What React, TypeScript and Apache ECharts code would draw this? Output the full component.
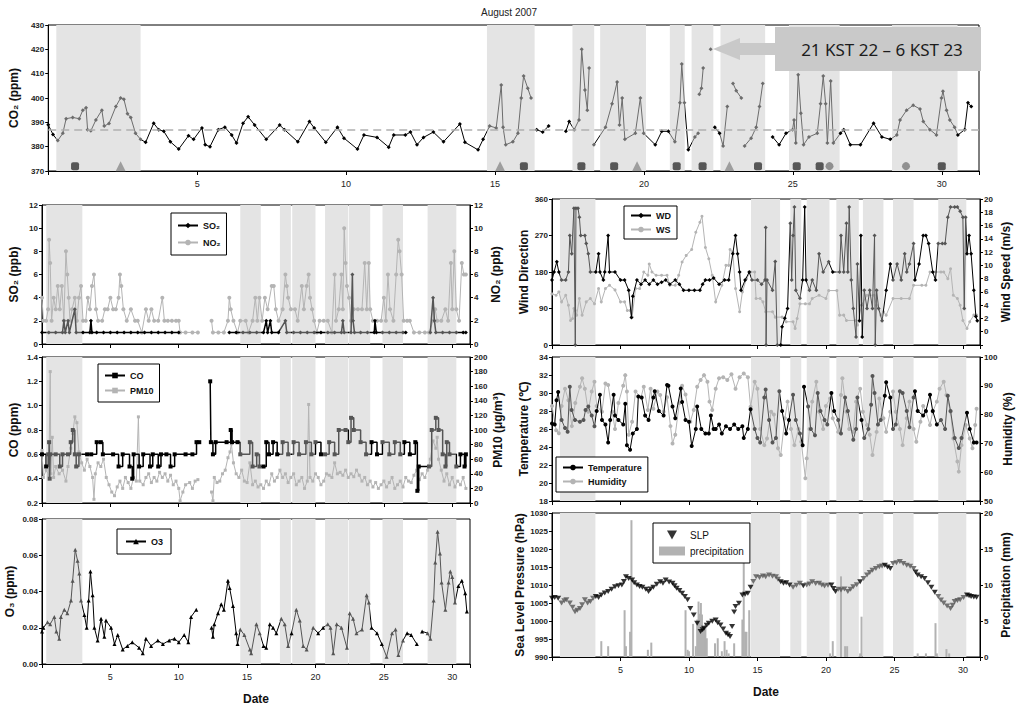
import React, { useEffect, useRef } from "react";
import * as echarts from "echarts";

type P = [number, number] | null;

// ---------- shaded periods (day of August) ----------
const TOP_BANDS: [number, number][] = [[0.27, 3.1], [14.73, 16.33], [17.6, 18.33], [18.53, 20.07], [20.87, 21.37], [21.6, 22.33], [22.57, 24.07], [24.87, 26.57], [28.33, 30.53]];
const LEFT_BANDS: [number, number][] = [[0.31, 2.95], [14.5, 16.0], [17.4, 18.2], [18.3, 20.0], [20.7, 22.4], [22.45, 24.0], [24.9, 26.4], [28.2, 30.3]];
const RIGHT_BANDS: [number, number][] = [[0.58, 3.17], [14.53, 16.65], [17.4, 18.2], [18.6, 20.26], [20.76, 22.4], [22.7, 24.2], [24.9, 26.4], [28.2, 30.25]];

// ---------- CO2 ----------
const CO2: P[] = [[0.0,389],[0.16,385],[0.32,382.5],[0.49,385.5],[0.6,391.5],[0.82,392],[1.04,391.5],[1.16,395],[1.27,396],[1.32,387],[1.43,386.5],[1.6,391],[1.8,395],[1.88,388.5],[2.04,389.5],[2.27,396.5],[2.43,400],[2.54,399.5],[2.66,393.5],[2.77,392],[2.93,385.5],[3.1,383],[3.27,381.8],[3.54,389.6],[3.71,387],[3.88,386.3],[4.1,382],[4.38,379],[4.71,384.5],[4.88,383],[5.16,387.7],[5.27,380.8],[5.43,380],[5.71,387],[5.93,388],[6.16,384.8],[6.32,381.5],[6.54,389.6],[6.71,392.3],[6.93,388.9],[7.32,383],[7.77,388.9],[7.93,387],[8.38,382],[8.77,390.3],[8.93,387.7],[9.32,381.8],[9.71,388],[9.93,383.5],[10.38,379],[10.6,384.8],[11.04,383.8],[11.43,379.8],[11.6,384.8],[11.99,384.8],[12.16,386],[12.38,380.8],[12.6,383.8],[12.93,386],[13.27,382],[13.82,389.3],[13.99,381.8],[14.43,378.7],[14.6,383],[14.82,388.5],[15.04,387.7],[15.21,405.3],[15.27,388],[15.36,380.8],[15.6,382],[15.77,385.5],[15.88,400],[15.96,409],[16.1,404],[16.21,400],null,[16.4,387],[16.6,386],[16.8,388.5],null,[17.38,386.3],[17.49,390.3],[17.66,387],[17.82,391],[17.91,420],[18.02,403.3],[18.1,395],[18.16,412.3],null,[18.32,380.8],[18.71,388],[18.93,397.6],[19.1,406.6],[19.18,388.9],[19.27,400],[19.36,383],[19.71,385.5],[19.88,400],[19.99,385.5],[20.38,380.8],[20.6,386.3],[20.82,386.3],[21.04,382],[21.21,398],[21.27,414],[21.36,398],[21.49,378.7],[21.71,384],[21.82,385.5],null,[21.86,401.5],[21.93,404],[21.99,412.3],null,[22.24,420],null,[22.38,388],[22.54,385.5],[22.66,380.3],[22.8,396.5],null,[22.99,406],[23.1,403],[23.27,400],null,[23.38,380.3],[23.6,383.5],[23.77,388],[23.88,396.5],[23.99,406],null,[24.32,384],[24.54,380.8],[24.77,385.5],[24.99,387],[25.04,391],[25.1,381.5],[25.18,409.6],[25.27,393.7],[25.36,380.8],[25.54,384],[25.82,385.5],[25.93,397.6],[26.02,409],[26.1,397.6],[26.16,381.5],[26.27,407],[26.36,381.5],[26.6,385.5],[26.71,387],[26.93,380.8],[27.27,380.8],[27.71,389.6],[27.99,384],[28.27,383],[28.49,384.8],[28.6,391],[28.82,395],[29.04,397],[29.27,395.5],[29.38,390.3],[29.6,387],[29.82,384.8],[29.99,400],[30.04,402.8],[30.16,395],[30.27,391],[30.43,388],[30.54,384.8],[30.77,387],[30.88,398],[30.99,396.5]];
const CO2_MEAN = 387;
const CO2_EVENT_LEVEL = 372;
const CO2_EVENT_DAYS = [0.9, 2.43, 15.17, 15.97, 17.9, 19.0, 19.77, 21.1, 21.97, 22.87, 23.83, 25.13, 25.9, 26.23, 28.8, 30.0];
const CO2_EVENT_KINDS = ["square", "triangle", "triangle", "square", "square", "square", "triangle", "square", "square", "triangle", "square", "square", "square", "circle", "circle", "square"];

// ---------- SO2 / NO2 (ppb) ----------
const SO2: P[] = [[0,1],[0.5,1],[1.0,1],[1.5,1],[1.6,2],[1.7,1],[1.9,2],[2.0,1],[2.4,3],[2.5,1],[3.0,1],[3.5,1],[3.58,2],[3.65,1],[4.0,1],[4.5,1],[5.0,1],[5.5,1],[6.0,1],[6.5,1],[7.0,1],[7.5,1],[8.0,1],[8.5,1],[9.0,1],[9.5,1],[10.0,1],null,[13.7,1],[14.2,1],[14.7,1],[15.2,1],[15.7,1],[16.2,1],[16.4,2],[16.5,1],[16.7,2],[16.8,1],[17.3,1],[17.8,2],[17.9,1],[18.4,1],[18.9,1],[19.4,1],[19.9,1],[20.4,1],[20.9,1],[21.4,1],[21.9,1],[22.0,2],[22.1,1],[22.6,1],[22.7,6],[22.75,2],[22.85,1],[23.3,1],[23.8,1],[24.3,1],[24.35,2],[24.45,1],[24.9,1],[25.4,1],[25.9,1],[26.4,1],[26.6,1],null,[28.4,1],[28.6,4],[28.7,2],[28.8,1],[29.3,1],[29.8,1],[30.3,1],[30.8,1],[31.0,1]];
const NO2: P[] = [[0.0,4],[0.1,2],[0.3,2],[0.45,3],[0.52,9],[0.6,7],[0.7,2],[0.85,4],[1.0,3],[1.15,5],[1.3,3],[1.45,5],[1.6,2],[1.75,8],[1.85,6],[1.95,4],[2.05,2],[2.2,3],[2.4,4],[2.55,2],[2.7,4],[2.85,5],[3.0,2],[3.2,2],[3.35,4],[3.5,3],[3.65,5],[3.8,6],[3.95,3],[4.1,2],[4.4,2],[4.6,3],[4.8,3],[5.0,4],[5.2,3],[5.4,3],[5.6,4],[5.7,6],[5.8,5],[5.95,3],[6.2,2],[6.5,3],[6.8,2],[7.0,2],[7.3,1],[7.6,3],[7.8,2],[8.0,3],[8.2,2],[8.5,2],[8.8,4],[8.95,2],[9.2,2],[9.5,2],[9.8,2],[10.0,2],[10.1,1],[10.5,1],[11.0,1],[11.4,1],null,[12.4,2],[12.5,1],[12.9,1],[13.3,1],[13.6,2],[13.7,4],[13.8,3],[14.0,2],[14.3,1],[14.5,2],[14.9,2],[15.1,1],[15.4,2],[15.6,4],[15.75,2],[15.9,4],[16.1,2],[16.3,4],[16.5,3],[16.8,5],[16.95,5],[17.1,3],[17.3,2],[17.6,3],[17.8,6],[17.9,5],[18.0,4],[18.2,3],[18.5,3],[18.7,2],[19.0,5],[19.15,3],[19.35,5],[19.5,6],[19.6,4],[19.75,3],[19.9,2],[20.1,1],[20.3,2],[20.6,2],[20.9,2],[21.2,1],[21.4,6],[21.5,2],[21.7,3],[21.9,6],[22.0,3],[22.1,10],[22.2,7],[22.3,5],[22.45,4],[22.6,2],[22.8,3],[23.1,3],[23.4,3],[23.6,7],[23.75,3],[23.9,7],[24.0,3],[24.2,2],[24.5,2],[24.8,2],[25.0,4],[25.15,2],[25.3,6],[25.45,3],[25.7,2],[25.9,6],[26.05,9],[26.15,8],[26.3,6],[26.45,2],[26.7,2],[26.9,2],[27.2,1],[27.6,1],[28.0,1],[28.3,1],[28.6,2],[28.75,3],[28.9,2],[29.2,2],[29.5,3],[29.7,2],[29.9,7],[30.0,3],[30.15,8],[30.3,3],[30.5,2],[30.7,7],[30.85,6],[31.0,6]];

// ---------- CO (ppm) / PM10 (ug/m3) ----------
const CO: P[] = [[0.0,0.6],[0.3,0.5],[0.45,0.6],[0.52,0.7],[0.56,0.4],[0.6,0.6],[1.0,0.6],[1.3,0.5],[1.5,0.6],[1.9,0.6],[2.1,0.7],[2.25,0.8],[2.4,0.6],[2.5,0.5],[2.7,0.6],[3.3,0.6],[3.6,0.6],[4.0,0.7],[4.3,0.7],[4.45,0.6],[5.2,0.6],[5.6,0.5],[5.9,0.6],[6.4,0.5],[6.6,0.4],[6.7,0.6],[7.1,0.5],[7.4,0.6],[7.9,0.5],[8.1,0.6],[8.5,0.5],[8.7,0.6],[9.1,0.6],[9.4,0.5],[9.7,0.6],[10.5,0.6],[11.0,0.6],[11.3,0.7],[11.5,0.7],null,[12.3,1.2],[12.35,0.7],[12.5,0.6],[12.7,0.7],[13.5,0.7],[13.8,0.8],[13.9,0.7],[14.3,0.7],[14.5,0.6],[15.2,0.7],[15.4,0.5],[15.7,0.6],[15.9,0.5],[16.2,0.5],[16.4,0.7],[16.6,0.6],[16.9,0.7],[17.2,0.6],[17.6,0.7],[18.0,0.6],[18.4,0.7],[18.8,0.6],[19.3,0.7],[19.7,0.6],[20.0,0.7],[20.4,0.6],[20.7,0.6],[21.0,0.7],[21.4,0.6],[21.7,0.8],[22.2,0.8],[22.4,0.7],[22.6,0.9],[22.8,0.8],[23.3,0.7],[23.7,0.6],[24.1,0.7],[24.5,0.6],[24.9,0.7],[25.4,0.6],[25.8,0.7],[26.2,0.6],[26.5,0.7],[26.9,0.6],[27.3,0.7],[27.45,0.3],[27.55,0.5],[28.3,0.5],[28.5,0.8],[28.8,0.9],[29.0,0.8],[29.3,0.6],[29.5,0.5],[29.6,0.7],[29.8,0.6],[30.3,0.5],[30.6,0.6],[30.9,0.5],[31.0,0.6]];
const PM10: P[] = [[0.0,72],[0.1,35],[0.3,45],[0.5,38],[0.6,180],[0.65,40],[0.75,90],[0.85,35],[1.0,50],[1.25,40],[1.5,45],[1.75,30],[1.9,50],[2.1,75],[2.25,95],[2.4,118],[2.55,110],[2.7,70],[2.9,55],[3.1,45],[3.3,60],[3.5,50],[3.7,35],[3.8,5],[3.9,40],[4.1,55],[4.3,50],[4.5,60],[4.7,35],[4.9,25],[5.1,15],[5.3,10],[5.5,22],[5.7,30],[5.9,20],[6.1,35],[6.3,28],[6.5,20],[6.7,35],[6.9,30],[7.05,118],[7.15,30],[7.4,25],[7.6,35],[7.8,40],[8.0,28],[8.2,35],[8.4,30],[8.6,42],[8.8,35],[9.0,40],[9.2,30],[9.4,38],[9.6,25],[9.8,30],[10.0,20],[10.1,3],[10.3,15],[10.5,25],[10.8,28],[11.0,20],[11.2,30],[11.4,32],null,[12.4,15],[12.5,3],[12.6,35],[12.8,28],[13.0,30],[13.2,40],[13.4,45],[13.6,62],[13.75,70],[13.85,81],[14.0,55],[14.2,40],[14.4,35],[14.6,45],[14.8,30],[15.0,28],[15.2,55],[15.4,25],[15.6,30],[15.8,22],[16.0,25],[16.2,20],[16.4,30],[16.6,25],[16.8,40],[17.0,30],[17.2,35],[17.4,45],[17.6,35],[17.8,40],[18.0,28],[18.2,35],[18.4,40],[18.6,25],[18.8,30],[19.0,35],[19.2,20],[19.4,30],[19.5,135],[19.6,35],[19.8,30],[20.0,40],[20.2,35],[20.4,25],[20.6,30],[20.8,40],[21.0,38],[21.2,35],[21.4,55],[21.6,40],[21.8,42],[22.0,38],[22.2,45],[22.4,35],[22.6,40],[22.8,36],[23.0,45],[23.2,38],[23.4,30],[23.6,35],[23.8,25],[24.0,30],[24.2,22],[24.4,28],[24.6,20],[24.8,25],[25.0,30],[25.2,22],[25.4,28],[25.6,35],[25.8,20],[26.0,25],[26.2,30],[26.4,22],[26.6,35],[26.8,30],[27.0,28],[27.2,38],[27.4,45],[27.6,32],[27.8,40],[28.0,35],[28.2,45],[28.4,60],[28.6,85],[28.8,75],[28.9,90],[29.0,60],[29.2,45],[29.4,30],[29.6,40],[29.8,25],[30.0,35],[30.2,22],[30.4,30],[30.6,25],[30.8,35],[31.0,20]];

// ---------- O3 (ppm) ----------
const O3: P[] = [[0.0,0.018],[0.1,0.02],[0.4,0.023],[0.6,0.022],[0.9,0.026],[1.05,0.018],[1.26,0.014],[1.38,0.026],[1.63,0.03],[1.85,0.028],[2.12,0.035],[2.24,0.046],[2.43,0.063],[2.6,0.057],[2.73,0.05],[2.85,0.035],[3.1,0.027],[3.27,0.02],[3.41,0.035],[3.54,0.051],[3.7,0.038],[3.83,0.02],[4.07,0.013],[4.32,0.025],[4.56,0.015],[4.68,0.024],[5.05,0.02],[5.3,0.011],[5.54,0.016],[5.9,0.008],[6.25,0.01],[6.6,0.012],[7.1,0.009],[7.37,0.006],[7.6,0.014],[7.98,0.01],[8.47,0.013],[8.84,0.011],[9.3,0.013],[9.69,0.014],[10.0,0.012],[10.4,0.016],[10.7,0.012],[10.9,0.026],[11.28,0.03],null,[12.4,0.02],[12.5,0.015],[12.6,0.022],[12.87,0.028],[13.11,0.033],[13.3,0.03],[13.6,0.046],[13.72,0.042],[13.97,0.032],[14.2,0.017],[14.3,0.011],[14.5,0.019],[14.8,0.016],[15.2,0.008],[15.3,0.006],[15.68,0.022],[15.92,0.017],[16.2,0.01],[16.4,0.009],[16.66,0.022],[16.9,0.02],[17.14,0.017],[17.5,0.025],[17.75,0.022],[18.0,0.01],[18.25,0.017],[18.6,0.03],[18.85,0.024],[19.1,0.01],[19.35,0.008],[19.83,0.02],[20.2,0.017],[20.56,0.02],[20.9,0.022],[21.1,0.02],[21.3,0.006],[21.55,0.022],[21.9,0.02],[22.3,0.009],[22.5,0.028],[22.75,0.025],[23.0,0.017],[23.4,0.019],[23.74,0.038],[23.9,0.034],[24.1,0.02],[24.5,0.017],[24.85,0.011],[25.2,0.004],[25.6,0.017],[25.85,0.019],[26.06,0.005],[26.4,0.013],[26.7,0.017],[27.0,0.016],[27.41,0.011],null,[27.8,0.018],[28.2,0.017],[28.4,0.014],[28.64,0.035],[28.76,0.056],[28.93,0.073],[29.1,0.061],[29.22,0.045],[29.5,0.03],[29.73,0.045],[29.86,0.051],[30.0,0.048],[30.2,0.034],[30.45,0.043],[30.7,0.046],[30.95,0.039],[31.07,0.029]];

// ---------- Wind direction (deg) / speed (m/s) ----------
const WD: P[] = [[0.0,160],[0.15,180],[0.35,205],[0.5,180],[0.7,160],[1.0,160],[1.2,180],[1.3,270],[1.44,225],[1.6,337],[1.7,0],[1.75,337],[1.9,337],[2.0,315],[2.1,270],[2.4,270],[2.5,250],[2.65,225],[2.8,180],[3.2,180],[3.4,225],[3.5,180],[3.75,160],[3.85,180],[4.1,270],[4.2,180],[4.6,180],[5.0,160],[5.3,160],[5.6,135],[5.8,68],[5.9,120],[6.2,160],[6.5,150],[6.8,160],[7.1,150],[7.4,160],[7.7,150],[8.0,155],[8.3,160],[8.6,150],[9.0,160],[9.3,150],[9.6,135],[10.0,135],[10.4,135],[10.8,135],[11.0,150],[11.2,160],[11.5,160],[11.8,165],[12.2,150],[12.6,160],[12.9,160],[13.2,225],[13.4,270],[13.55,225],[13.7,180],[13.8,135],[14.1,160],[14.4,180],[14.6,160],[15.0,160],[15.3,150],[15.55,160],[15.6,290],[15.63,0],[15.7,160],[16.1,135],[16.3,206],[16.45,0],[16.7,0],[16.8,45],[17.0,66],[17.2,90],[17.4,300],[17.5,160],[17.6,270],[17.7,340],[17.8,135],[18.1,115],[18.3,160],[18.45,340],[18.55,160],[18.8,135],[19.0,160],[19.3,135],[19.5,225],[19.8,180],[20.2,205],[20.5,180],[21.0,180],[21.1,270],[21.3,180],[21.5,300],[21.6,180],[21.7,340],[21.85,160],[22.0,90],[22.2,20],[22.3,200],[22.45,60],[22.55,270],[22.65,20],[22.8,135],[23.0,90],[23.2,135],[23.4,90],[23.55,270],[23.6,0],[23.7,135],[23.85,90],[24.1,60],[24.4,135],[24.7,200],[24.9,160],[25.2,200],[25.5,160],[25.75,225],[25.9,180],[26.1,200],[26.4,250],[26.5,160],[26.8,200],[27.1,270],[27.3,270],[27.5,250],[27.8,180],[28.0,160],[28.2,250],[28.5,250],[28.7,250],[28.9,315],[29.1,340],[29.4,340],[29.6,340],[29.8,330],[30.0,315],[30.1,90],[30.2,315],[30.3,225],[30.45,270],[30.6,225],[30.8,135],[30.95,70],[31.05,60]];
const WS: P[] = [[0.0,5.7],[0.3,5.5],[0.5,6],[0.7,4.5],[1.0,5.5],[1.2,4],[1.35,1.7],[1.5,2],[1.6,3.5],[1.7,3.2],[1.8,2.5],[2.0,5],[2.2,2.5],[2.5,4.5],[2.8,5],[3.1,4.2],[3.4,6.5],[3.6,4.5],[3.9,6.5],[4.2,7],[4.6,6.3],[5.0,4.5],[5.3,4.5],[5.5,3.2],[5.7,3.2],[5.85,2.2],[6.1,6.5],[6.4,6.5],[6.7,9],[7.0,8.5],[7.1,10.2],[7.3,9],[7.6,8.5],[8.0,8.5],[8.4,8.5],[8.6,7],[9.0,7],[9.25,8.5],[9.5,10.5],[9.8,11.5],[10.2,12.4],[10.5,15],[10.8,16.5],[10.95,17.4],[11.2,12.7],[11.45,11],[11.7,8.5],[11.95,4.5],[12.4,7],[12.7,10],[12.9,10],[13.0,12.4],[13.2,12],[13.4,6.5],[13.7,3],[13.9,6],[14.2,8],[14.5,9],[14.8,9],[14.9,5],[15.2,5],[15.4,4.5],[15.6,3],[16.1,3],[16.3,2.2],[16.8,2.2],[17.1,1.5],[17.6,1.5],[17.75,0.5],[17.9,2],[18.1,4.2],[18.5,4.2],[18.8,4.2],[19.0,5],[19.5,5.5],[20.0,5],[20.2,6.2],[20.8,6.2],[21.0,2.5],[21.3,2.5],[21.5,1.7],[22.2,1.7],[22.3,1],[22.6,4],[23.0,5.5],[23.5,5.5],[23.7,4],[24.0,2.5],[24.2,3],[24.4,2.5],[24.9,5],[25.5,5],[26.1,5],[26.4,7],[27.0,7],[27.3,7],[27.6,9],[28.0,9],[28.4,9],[28.6,9],[28.9,8],[29.1,9.5],[29.3,5.5],[29.6,5],[29.8,4],[30.0,1.7],[30.3,0.5],[30.5,1.5],[30.8,2.5],[31.0,2.5]];

// ---------- Temperature (C) / Humidity (%) ----------
const TEMP: P[] = [[0.0,26.6],[0.2,26.5],[0.33,29.2],[0.45,30.1],[0.7,27],[0.95,26.1],[1.14,25.7],[1.3,30.7],[1.43,28.1],[1.68,27],[2.04,26.8],[2.3,27],[2.45,28.1],[2.65,28.5],[2.9,27.5],[3.1,26.3],[3.26,28],[3.5,29.8],[3.65,27],[3.9,26.5],[4.1,24.5],[4.25,27],[4.5,29.8],[4.6,27.5],[4.85,27],[5.2,26.5],[5.35,28.8],[5.47,24.2],[5.7,23.7],[5.9,25.5],[6.2,26],[6.3,29.6],[6.55,29.5],[6.8,27.5],[7.05,27],[7.4,29.5],[7.5,30.2],[7.8,28],[8.15,27.5],[8.4,30.9],[8.5,30.8],[8.8,28.5],[9.0,27.2],[9.4,30.5],[9.5,29],[9.75,27],[10.0,26.8],[10.2,24.1],[10.5,26],[10.6,28.5],[10.9,26],[11.2,25.5],[11.45,25.5],[11.6,27.5],[11.8,26],[11.95,26],[12.2,26.5],[12.4,25.5],[12.7,26.3],[13.0,26],[13.3,26.5],[13.6,26],[13.9,26.3],[14.0,25],[14.3,26],[14.5,28.2],[14.8,26],[15.0,25],[15.2,24.5],[15.5,29.5],[15.6,30.4],[15.85,27],[16.1,24.5],[16.35,25],[16.6,30.2],[16.8,28],[17.1,25.5],[17.3,27],[17.6,29.8],[17.8,27],[18.1,25.5],[18.3,24.2],[18.4,30.7],[18.7,28.5],[18.9,26],[19.2,25.3],[19.4,30],[19.6,28],[19.9,27],[20.1,26.5],[20.4,30],[20.6,28],[20.9,27],[21.1,25.5],[21.4,29.5],[21.6,28],[22.0,24.8],[22.2,26],[22.3,29.5],[22.6,27],[22.8,25],[23.1,26],[23.3,28.7],[23.4,31.9],[23.55,30],[23.8,26.5],[24.0,27],[24.3,29.7],[24.4,31.2],[24.7,29.5],[24.9,26],[25.1,26.5],[25.4,30.2],[25.6,30],[25.9,28],[26.1,26.2],[26.4,29.5],[26.5,30.2],[26.7,28],[27.1,27.5],[27.3,28],[27.6,29.8],[27.8,28],[28.1,26.5],[28.4,27],[28.7,26],[28.9,29.7],[29.1,28],[29.4,25],[29.7,23.9],[29.9,25],[30.3,27.8],[30.5,26],[30.8,24.5],[31.0,24.5]];
const HUM: P[] = [[0.0,83],[0.3,74.6],[0.5,73.5],[0.7,83],[0.95,89],[1.2,85],[1.45,76],[1.7,84],[2.04,89.7],[2.2,92.6],[2.4,89],[2.65,81],[2.9,88],[3.1,91.4],[3.26,83],[3.65,81],[3.9,90.8],[4.1,90.3],[4.4,81],[4.6,75],[4.85,84],[5.2,90],[5.35,93.7],[5.47,88],[5.6,73],[5.85,77.5],[6.1,88],[6.5,86],[6.7,89.7],[7.0,81.6],[7.2,89],[7.4,82],[7.7,88],[7.9,86.8],[8.15,81],[8.4,86],[8.65,76],[8.8,70],[9.0,73],[9.3,84],[9.5,90],[9.75,87],[10.1,77.5],[10.35,81.6],[10.6,89.7],[10.85,92],[11.1,93.7],[11.35,91.4],[11.5,84.5],[11.7,81.6],[11.95,89],[12.2,92.6],[12.5,93],[12.8,92],[13.1,94],[13.4,89],[13.7,93],[14.0,94.3],[14.3,93],[14.5,82.7],[14.8,91.4],[15.0,89],[15.2,75],[15.5,69.4],[15.7,71.7],[16.0,81],[16.2,80],[16.5,68.3],[16.7,66],[17.0,78.7],[17.2,84.5],[17.45,75],[17.7,69.4],[18.0,75],[18.2,70.6],[18.5,57.9],[18.6,64.8],[18.8,75],[19.0,84.5],[19.3,91.4],[19.5,81],[19.8,75],[20.0,83],[20.3,85.6],[20.5,78.7],[20.9,74],[21.1,86.8],[21.2,92.6],[21.5,81],[21.7,75],[22.0,74],[22.2,84.5],[22.5,89],[22.7,81],[23.0,76.4],[23.2,73],[23.4,66],[23.7,74],[23.9,85.6],[24.2,78.7],[24.4,74],[24.7,81],[24.9,88],[25.1,81],[25.4,75],[25.6,69.4],[25.9,78.7],[26.1,84.5],[26.4,75],[26.6,70.6],[26.9,77.5],[27.1,83],[27.3,81],[27.6,76.4],[27.8,81],[28.1,84.5],[28.3,89],[28.6,91.4],[28.8,86.8],[29.1,81],[29.3,71.7],[29.6,63.7],[29.7,60.2],[29.9,69.4],[30.2,76.4],[30.5,71.7],[30.7,68.3],[30.9,76.4],[31.0,82]];

// ---------- Sea level pressure (hPa) / precipitation (mm) ----------
const SLP: P[] = [[0.0,1006.3],[0.2,1006.5],[0.45,1006.3],[0.7,1005],[0.9,1005.6],[1.05,1005.9],[1.3,1005],[1.5,1003.8],[1.68,1002.6],[1.85,1003],[2.04,1003.5],[2.2,1004.5],[2.4,1005.9],[2.6,1005],[2.8,1005.4],[3.0,1006.3],[3.2,1006.8],[3.4,1006.5],[3.6,1007.2],[3.85,1007.8],[4.1,1008.2],[4.35,1008.8],[4.6,1009.5],[4.85,1009.8],[5.1,1010],[5.25,1011],[5.4,1012.3],[5.6,1011.8],[5.85,1011.4],[6.0,1010.6],[6.2,1010],[6.4,1009.6],[6.6,1009.4],[6.85,1008.8],[7.05,1008.2],[7.2,1008.9],[7.4,1009.4],[7.65,1010.2],[7.9,1010.9],[8.1,1010.5],[8.3,1011.4],[8.55,1010.8],[8.8,1010.5],[8.95,1009.8],[9.1,1009.1],[9.3,1008.5],[9.5,1007.7],[9.7,1006.8],[9.9,1005.9],[10.1,1003.5],[10.35,1001.7],[10.6,999.4],[10.85,997.1],[11.0,997.6],[11.1,998],[11.3,998.8],[11.45,999.4],[11.7,999.9],[11.95,1000.3],[12.1,999.5],[12.3,998.9],[12.5,997.8],[12.7,996.6],[12.85,996.2],[13.0,995.7],[13.15,998.5],[13.3,1002.5],[13.4,1004],[13.65,1004.9],[13.9,1007.2],[14.1,1007.4],[14.3,1007.7],[14.5,1009.4],[14.7,1011],[14.9,1012.3],[15.15,1012.1],[15.4,1012.5],[15.6,1012.3],[15.85,1012.8],[16.1,1012.4],[16.35,1012.3],[16.5,1011.6],[16.7,1010.9],[16.9,1010.5],[17.1,1010.6],[17.35,1010],[17.6,1009.4],[17.85,1009.9],[18.1,1010.5],[18.35,1009.8],[18.6,1010],[18.8,1010.3],[19.0,1010.9],[19.25,1010.4],[19.5,1010.5],[19.7,1010],[19.9,1009.7],[20.15,1009.9],[20.4,1010],[20.55,1009],[20.7,1008.2],[20.9,1008.8],[21.1,1008.6],[21.35,1008.9],[21.6,1008.2],[21.8,1008.8],[22.0,1009.5],[22.25,1010.1],[22.5,1010.9],[22.75,1011.8],[23.0,1012.8],[23.2,1013.5],[23.4,1014.1],[23.65,1014.6],[23.9,1015.1],[24.1,1015.3],[24.3,1015.5],[24.5,1015],[24.7,1014.6],[24.9,1016],[25.15,1016.2],[25.4,1016.5],[25.65,1016],[25.9,1015.5],[26.15,1015.2],[26.4,1014.6],[26.55,1013.6],[26.7,1012.8],[26.95,1012.3],[27.2,1011.8],[27.45,1010.6],[27.7,1009.4],[27.95,1008],[28.2,1006.8],[28.4,1005.8],[28.6,1005],[28.85,1004.2],[29.1,1003.5],[29.25,1004.4],[29.4,1005.4],[29.6,1005.7],[29.8,1005.9],[30.05,1006.5],[30.3,1007.2],[30.45,1007],[30.6,1006.8],[30.8,1006.7],[31.0,1006.6]];
const PRECIP: P[] = [[3.6,2.2],[4.1,1.5],[5.3,6.5],[5.4,1.5],[5.7,3.5],[5.8,19],[7.0,1],[7.25,2],[9.75,6.5],[9.9,1],[10.0,0.8],[10.3,4.6],[10.5,1.5],[10.6,5.2],[10.7,7.7],[10.8,6],[10.87,7.5],[10.95,5.9],[11.0,3.8],[11.1,4.2],[11.2,4.5],[11.3,2.6],[11.9,1.9],[12.1,2.6],[12.4,0.8],[12.6,2.2],[12.75,1],[12.9,0.5],[13.3,1.9],[13.9,5.2],[14.0,13.7],[14.1,3.5],[14.2,3.5],[14.4,6.5],[20.3,0.5],[20.5,2.2],[21.1,11.2],[21.4,1.5],[21.55,1.5],[22.5,0.5],[22.6,5.6],[26.7,0.5],[27.3,0.5],[28.0,4.7],[28.1,0.5],[28.8,1.1],[29.0,0.5]];

// ---------- styling ----------
const NARROW = "'Liberation Sans Narrow', 'Arial Narrow', 'Liberation Sans', Arial, sans-serif";
const SANS = "'Liberation Sans', Arial, sans-serif";
const BAND_COLOR = "#e4e4e4";
const LIGHT = "#b4b4b4";

const toData = (arr: P[]) => arr.map((p) => (p ? p : ["-", "-"]));

const bandArea = (bands: [number, number][]) => ({
  silent: true,
  itemStyle: { color: BAND_COLOR },
  data: bands.map(([a, b]) => [{ xAxis: a }, { xAxis: b }]),
});

const xAx = (grid: number, max: number, labels: boolean, name?: string) => ({
  type: "value",
  gridIndex: grid,
  min: 0,
  max,
  interval: 5,
  axisLine: { show: true, onZero: false, lineStyle: { color: "#000" } },
  axisTick: { show: true, length: 4, lineStyle: { color: "#000" } },
  splitLine: { show: false },
  axisLabel: {
    show: labels,
    fontSize: 9,
    color: "#222",
    fontFamily: NARROW,
    margin: 8,
    formatter: (v: number) => (v > 0 && Math.abs(v % 5) < 1e-9 ? String(v) : ""),
  },
  name,
  nameLocation: "middle",
  nameGap: 29,
  nameTextStyle: { fontSize: 12, fontWeight: "bold", color: "#111", fontFamily: NARROW },
});

const yAx = (
  grid: number,
  position: "left" | "right",
  min: number,
  max: number,
  interval: number,
  name: string,
  nameGap: number,
  formatter?: (v: number) => string
) => ({
  type: "value",
  gridIndex: grid,
  position,
  min,
  max,
  interval,
  axisLine: { show: true, onZero: false, lineStyle: { color: "#000" } },
  axisTick: { show: true, length: 3, lineStyle: { color: "#000" } },
  splitLine: { show: false },
  axisLabel: {
    fontSize: 8,
    fontWeight: "bold",
    color: "#222",
    fontFamily: NARROW,
    margin: 4,
    formatter: formatter || ((v: number) => String(v)),
  },
  name,
  nameLocation: "middle",
  nameRotate: 90,
  nameGap,
  nameTextStyle: { fontSize: 12, fontWeight: "bold", color: "#111", fontFamily: SANS },
});

const legendBox = (names: any[], left: number, top: number, extra: any = {}) => ({
  data: names,
  left,
  top,
  orient: "vertical",
  selectedMode: false,
  backgroundColor: "#fff",
  borderColor: "#000",
  borderWidth: 1,
  borderRadius: 0,
  padding: [6, 8, 6, 8],
  itemGap: 5,
  itemWidth: 20,
  itemHeight: 7,
  textStyle: { fontSize: 9, color: "#111", fontFamily: NARROW, fontWeight: "bold" },
  ...extra,
});

function buildOption() {
  const series: any[] = [];
  const add = (s: any) => {
    series.push(s);
    return series.length - 1;
  };
  // secondary (light grey) series: fixed colour
  const greyS = (name: string, data: P[], xi: number, yi: number, symbol: string, size: number, extra: any = {}) => ({
    type: "line",
    name,
    data: toData(data),
    xAxisIndex: xi,
    yAxisIndex: yi,
    symbol,
    symbolSize: size,
    showSymbol: true,
    lineStyle: { color: LIGHT, width: 1 },
    itemStyle: { color: LIGHT },
    z: 2,
    ...extra,
  });
  // primary series: colour comes from the visualMap (black outside / grey inside shaded periods)
  const mainS = (name: string, data: P[], xi: number, yi: number, symbol: string, size: number, width: number, extra: any = {}) => ({
    type: "line",
    name,
    data: toData(data),
    xAxisIndex: xi,
    yAxisIndex: yi,
    symbol,
    symbolSize: size,
    showSymbol: true,
    lineStyle: { width },
    itemStyle: { color: "#000" },
    z: 3,
    ...extra,
  });

  // CO2 panel
  const sCO2 = add(mainS("CO2", CO2, 0, 0, "diamond", 4, 1));
  add({
    type: "scatter",
    name: "events",
    xAxisIndex: 0,
    yAxisIndex: 0,
    z: 4,
    data: CO2_EVENT_DAYS.map((d, i) => {
      const k = CO2_EVENT_KINDS[i];
      return {
        value: [d, CO2_EVENT_LEVEL],
        symbol: k === "square" ? "roundRect" : k,
        symbolSize: k === "triangle" ? 10 : 8,
        itemStyle: { color: k === "square" ? "#333" : k === "triangle" ? "#8c8c8c" : "#7a7a7a" },
      };
    }),
    markArea: bandArea(TOP_BANDS),
    markLine: {
      silent: true,
      symbol: "none",
      label: { show: false },
      lineStyle: { type: [8, 5], color: "#b0b0b0", width: 1.5 },
      data: [{ yAxis: CO2_MEAN }],
    },
  });

  // SO2 / NO2
  add(greyS("NO₂", NO2, 1, 2, "circle", 4, { markArea: bandArea(LEFT_BANDS) }));
  const sSO2 = add(mainS("SO₂", SO2, 1, 1, "diamond", 4, 1.5));

  // CO / PM10
  add(greyS("PM10", PM10, 2, 4, "rect", 3, { markArea: bandArea(LEFT_BANDS) }));
  const sCO = add(mainS("CO", CO, 2, 3, "rect", 4, 1.5, { step: "end" }));

  // O3
  const sO3 = add(mainS("O3", O3, 3, 5, "triangle", 4, 1, { markArea: bandArea(LEFT_BANDS) }));

  // WD / WS
  add(greyS("WS", WS, 4, 7, "circle", 3, { markArea: bandArea(RIGHT_BANDS) }));
  const sWD = add(mainS("WD", WD, 4, 6, "diamond", 4, 1));

  // Temperature / Humidity
  add(greyS("Humidity", HUM, 5, 9, "circle", 4, { markArea: bandArea(RIGHT_BANDS) }));
  const sT = add(mainS("Temperature", TEMP, 5, 8, "circle", 4, 1));

  // SLP / precipitation
  add({
    type: "bar",
    name: "precipitation",
    xAxisIndex: 6,
    yAxisIndex: 11,
    data: toData(PRECIP),
    barWidth: 2,
    itemStyle: { color: "#b2b2b2" },
    z: 2,
    markArea: bandArea(RIGHT_BANDS),
  });
  const sSLP = add({
    type: "scatter",
    name: "SLP",
    xAxisIndex: 6,
    yAxisIndex: 10,
    data: toData(SLP),
    symbol: "path://M0,0 L10,0 L5,9 Z",
    symbolSize: [6, 5],
    itemStyle: { color: "#000" },
    z: 3,
  });

  const pieces = (b: [number, number][], color: string) => b.map(([a, c]) => ({ gte: a, lte: c, color }));

  return {
    animation: false,
    backgroundColor: "#fff",
    textStyle: { fontFamily: SANS },
    title: {
      text: "August 2007",
      left: 476,
      top: 2,
      textStyle: { fontSize: 10, fontWeight: "normal", color: "#222", fontFamily: NARROW },
    },
    grid: [
      { left: 41, top: 25, width: 938, height: 146 },
      { left: 42, top: 205, width: 428, height: 139 },
      { left: 42, top: 357, width: 428, height: 146 },
      { left: 42, top: 519, width: 428, height: 145 },
      { left: 552, top: 199, width: 428, height: 146 },
      { left: 552, top: 357, width: 428, height: 144 },
      { left: 552, top: 513, width: 428, height: 144 },
    ].map((g) => ({ ...g, show: true, borderColor: "#000", borderWidth: 1, backgroundColor: "transparent" })),
    xAxis: [
      xAx(0, 31.25, true),
      xAx(1, 31.3, false),
      xAx(2, 31.3, false),
      xAx(3, 31.3, true, "Date"),
      xAx(4, 31.25, false),
      xAx(5, 31.25, false),
      xAx(6, 31.25, true, "Date"),
    ],
    yAxis: [
      yAx(0, "left", 370, 430, 10, "CO₂ (ppm)", 22),
      yAx(1, "left", 0, 12, 2, "SO₂ (ppb)", 22),
      yAx(1, "right", 0, 12, 2, "NO₂ (ppb)", 20),
      yAx(2, "left", 0.2, 1.4, 0.2, "CO (ppm)", 22, (v) => v.toFixed(1)),
      yAx(2, "right", 0, 200, 20, "PM10 (μg/m³)", 22),
      yAx(3, "left", 0, 0.08, 0.02, "O₃ (ppm)", 26, (v) => v.toFixed(2)),
      yAx(4, "left", 0, 360, 90, "Wind Direction", 22),
      yAx(4, "right", -2, 20, 2, "Wind Speed (m/s)", 20, (v) => (v < 0 ? "" : String(v))),
      yAx(5, "left", 18, 34, 2, "Temperature (℃)", 22),
      yAx(5, "right", 50, 100, 10, "Humidity (%)", 22),
      yAx(6, "left", 990, 1030, 5, "Sea Level Pressure (hPa)", 26),
      yAx(6, "right", 0, 20, 5, "Precipitation (mm)", 20),
    ],
    visualMap: [
      { type: "piecewise", show: false, dimension: 0, seriesIndex: [sCO2], pieces: pieces(TOP_BANDS, "#6c6c6c"), outOfRange: { color: "#000" } },
      { type: "piecewise", show: false, dimension: 0, seriesIndex: [sSO2, sCO, sO3], pieces: pieces(LEFT_BANDS, "#555"), outOfRange: { color: "#000" } },
      { type: "piecewise", show: false, dimension: 0, seriesIndex: [sWD, sT, sSLP], pieces: pieces(RIGHT_BANDS, "#555"), outOfRange: { color: "#000" } },
    ],
    legend: [
      legendBox(["SO₂", "NO₂"], 171, 213, { padding: [8, 6, 8, 6], itemGap: 8 }),
      legendBox(["CO", "PM10"], 98, 364, { padding: [7, 6, 7, 6], itemGap: 6 }),
      legendBox(["O3"], 117, 529, { padding: [8, 8, 8, 8] }),
      legendBox(["WD", "WS"], 624, 206, { padding: [5, 6, 5, 6] }),
      legendBox(["Temperature", "Humidity"], 556, 457, { padding: [6, 6, 6, 6], itemGap: 5 }),
      legendBox(
        [
          { name: "SLP", icon: "path://M0,0 L10,0 L5,9 Z" },
          { name: "precipitation", icon: "rect" },
        ],
        653,
        523,
        { padding: [7, 6, 7, 6], itemGap: 6, itemWidth: 26, itemHeight: 9, textStyle: { fontSize: 10, color: "#111", fontFamily: NARROW } }
      ),
    ],
    graphic: [
      { type: "rect", left: 775, top: 27, shape: { width: 206, height: 44 }, style: { fill: "#c9c9c9" }, z: 10 },
      {
        type: "polygon",
        shape: { points: [[713, 49], [740, 38], [740, 43], [776, 43], [776, 55], [740, 55], [740, 60]] },
        style: { fill: "#c9c9c9" },
        z: 10,
      },
      {
        type: "text",
        x: 882,
        y: 49,
        style: { text: "21 KST 22 – 6 KST 23", fill: "#1c1c1c", fontSize: 17, fontFamily: "'Noto Sans', 'DejaVu Sans', sans-serif", align: "center", verticalAlign: "middle" },
        z: 11,
      },
    ],
    series,
  };
}

export default function App() {
  const ref = useRef<HTMLDivElement>(null);
  useEffect(() => {
    if (!ref.current) return;
    const chart = echarts.init(ref.current, null, { renderer: "svg" });
    chart.setOption(buildOption() as any);
    return () => chart.dispose();
  }, []);
  return <div ref={ref} style={{ position: "absolute", left: 0, top: 0, width: 1024, height: 709, background: "#fff" }} />;
}
